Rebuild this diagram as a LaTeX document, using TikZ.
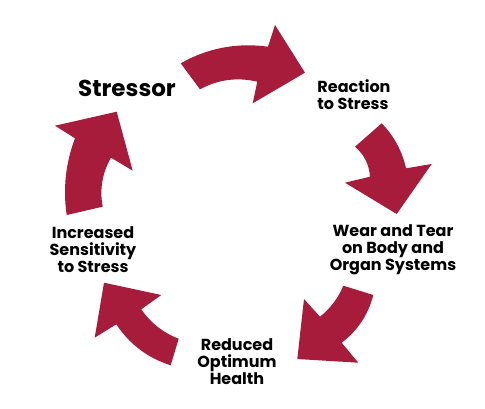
\documentclass[tikz,border=0pt]{standalone}
\usepackage{fontspec}
\setmainfont{Poppins}
\usetikzlibrary{calc}
\definecolor{crimson}{RGB}{166,28,58}
\begin{document}
\begin{tikzpicture}[x=1pt,y=-1pt,
  arrowshape/.style={fill=crimson,draw=none},
  lbl/.style={font=\bfseries\fontsize{16}{17}\selectfont,align=center,inner sep=0pt,text=black},
  biglbl/.style={font=\bfseries\fontsize{23}{26}\selectfont,inner sep=0pt,text=black}]
\useasboundingbox (0,0) rectangle (485,409);
% quadratic-like curve helper: from A via control C to B
\def\qc(#1)(#2)(#3){.. controls ($(#1)!0.6667!(#2)$) and ($(#3)!0.6667!(#2)$) .. (#3)}
% arrow 1 (top)
\fill[arrowshape] (180.7,63.3) \qc(180.7,63.3)(221.5,40.3)(268,46.7) -- (275,25) -- (305,72.7) -- (252.7,103.3) -- (257.3,81.7) \qc(257.3,81.7)(227.2,74.6)(200,89.3) -- cycle;
% arrow 2 (right)
\fill[arrowshape] (381.7,123.3) \qc(381.7,123.3)(400.2,142.4)(406,168.3) -- (431.7,164) -- (396.7,214) -- (345,182.7) -- (370,176.7) \qc(370,176.7)(368.8,158.6)(355,146.7) -- cycle;
% arrow 3 (bottom right)
\fill[arrowshape] (373.3,295) \qc(373.3,295)(365.8,324.4)(341.7,342.7) -- (358.3,362.7) -- (297.3,359) -- (304,299) -- (320,316.7) \qc(320,316.7)(335.7,304.2)(343.3,285.7) -- cycle;
% arrow 4 (bottom left)
\fill[arrowshape] (170.7,365.3) \qc(170.7,365.3)(136.3,354.4)(116.3,324.3) -- (94.7,337.7) -- (104,282.7) -- (161.3,295) -- (141.3,309.3) \qc(141.3,309.3)(155.4,329.8)(178.7,338.7) -- cycle;
% arrow 5 (left)
\fill[arrowshape] (66.7,215) \qc(66.7,215)(60.9,175.6)(75,138.3) -- (55,125.7) -- (116.7,111.7) -- (132.7,170.7) -- (111,157.7) \qc(111,157.7)(97.8,180.7)(102.7,206.7) -- cycle;
% labels
\node[biglbl] (stressor) at (127,88) {Stressor};
\node[lbl,align=left] (reaction) at (354,95) {Reaction\\to Stress};
\node[lbl] (wear) at (393,250) {Wear and Tear\\on Body and\\Organ Systems};
\node[lbl] (reduced) at (237,362) {Reduced\\Optimum\\Health};
\node[lbl] (increased) at (93,250) {Increased\\Sensitivity\\to Stress};
\end{tikzpicture}
\end{document}
